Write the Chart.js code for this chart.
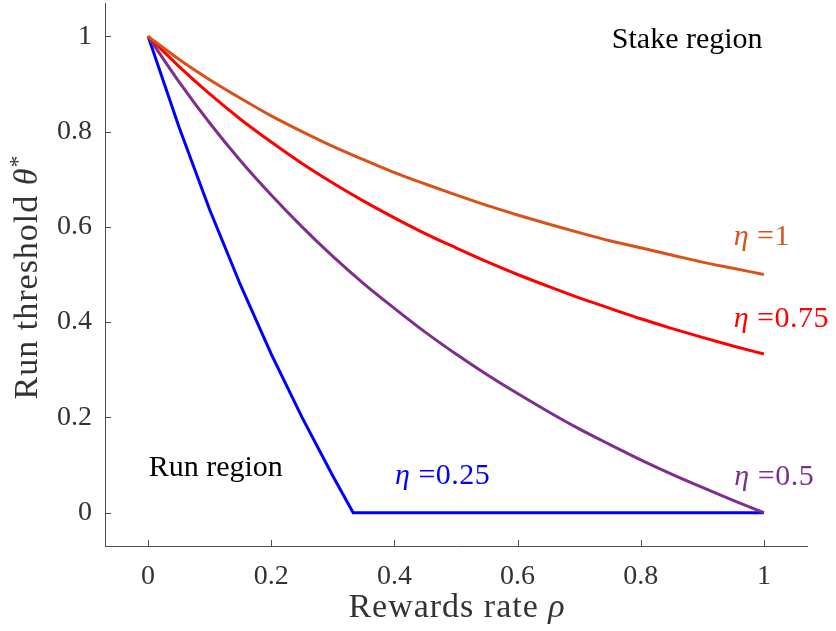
<!DOCTYPE html>
<html>
<head>
<meta charset="utf-8">
<script src="https://cdn.jsdelivr.net/npm/chart.js@4/dist/chart.umd.min.js"></script>
<style>
  html, body { margin: 0; padding: 0; background: #fff; }
</style>
</head>
<body>
<canvas id="thresholdChart" width="836" height="631"></canvas>
<script>
// Values
const rho = [0, 0.05, 0.1, 0.15, 0.2, 0.25, 0.3, 0.35, 0.4, 0.45, 0.5,
             0.55, 0.6, 0.65, 0.7, 0.75, 0.8, 0.85, 0.9, 0.95, 1];
const thetaEta1 = [1, 0.952, 0.909, 0.870, 0.833, 0.800, 0.769, 0.741, 0.714, 0.690, 0.667,
                   0.645, 0.625, 0.606, 0.588, 0.571, 0.556, 0.541, 0.526, 0.513, 0.500];
const thetaEta075 = [1, 0.937, 0.879, 0.826, 0.778, 0.733, 0.692, 0.654, 0.619, 0.586, 0.556,
                     0.527, 0.500, 0.475, 0.451, 0.429, 0.407, 0.387, 0.368, 0.350, 0.333];
const thetaEta05 = [1, 0.905, 0.818, 0.739, 0.667, 0.600, 0.538, 0.481, 0.429, 0.379, 0.333,
                    0.290, 0.250, 0.212, 0.176, 0.143, 0.111, 0.081, 0.053, 0.026, 0];
const rhoEta025 = [0, 0.05, 0.1, 0.15, 0.2, 0.25, 0.3, 0.333, 0.5, 0.75, 1];
const thetaEta025 = [1, 0.810, 0.636, 0.478, 0.333, 0.200, 0.077, 0, 0, 0, 0];
const tickValues = [0, 0.2, 0.4, 0.6, 0.8, 1];

const SERIF = "'Liberation Serif', 'Times New Roman', serif";
const AXIS_GRAY = '#4d4d4d';
const TEXT_GRAY = '#333333';

function toPoints(xs, ys) {
    return xs.map((x, i) => ({ x: x, y: ys[i] }));
}

function lineSet(label, xs, ys, color, smooth) {
    return {
        label: label,
        data: toPoints(xs, ys),
        borderColor: color,
        backgroundColor: color,
        borderWidth: 3,
        pointRadius: 0,
        showLine: true,
        fill: false,
        cubicInterpolationMode: smooth ? 'monotone' : 'default',
        tension: 0
    };
}

// Draw text made of runs: [text, italic, sizeScale, raise]
function drawRuns(ctx, runs, x, y, size, color, spacing) {
    ctx.fillStyle = color;
    ctx.textBaseline = 'alphabetic';
    ctx.textAlign = 'left';
    ctx.letterSpacing = (spacing || 0) + 'px';
    let cx = x;
    runs.forEach(r => {
        const s = size * (r[2] || 1);
        ctx.font = (r[1] ? 'italic ' : '') + s + 'px ' + SERIF;
        ctx.fillText(r[0], cx, y - (r[3] || 0));
        cx += ctx.measureText(r[0]).width;
    });
    ctx.letterSpacing = '0px';
    return cx - x;
}

function runsWidth(ctx, runs, size, spacing) {
    ctx.letterSpacing = (spacing || 0) + 'px';
    let w = 0;
    runs.forEach(r => {
        ctx.font = (r[1] ? 'italic ' : '') + size * (r[2] || 1) + 'px ' + SERIF;
        w += ctx.measureText(r[0]).width;
    });
    ctx.letterSpacing = '0px';
    return w;
}

const decorPlugin = {
    id: 'decor',
    afterDraw(chart) {
        const ctx = chart.ctx;
        const xs = chart.scales.x;
        const ys = chart.scales.y;
        ctx.save();

        // inward tick marks
        ctx.strokeStyle = AXIS_GRAY;
        ctx.lineWidth = 1;
        ctx.beginPath();
        tickValues.forEach(v => {
            const px = Math.round(xs.getPixelForValue(v)) + 0.5;
            ctx.moveTo(px, ys.bottom);
            ctx.lineTo(px, ys.bottom - 6);
            const py = Math.round(ys.getPixelForValue(v)) + 0.5;
            ctx.moveTo(xs.left, py);
            ctx.lineTo(xs.left + 6, py);
        });
        ctx.stroke();

        // x axis title
        const xRuns = [['Rewards rate ', false], ['\u03C1', true]];
        const xw = runsWidth(ctx, xRuns, 34, 1);
        drawRuns(ctx, xRuns, 457 - xw / 2, 617, 34, TEXT_GRAY, 1);

        // y axis title
        const yRuns = [['Run threshold ', false], ['\u03B8', true], ['*', false, 0.7, 12]];
        const yw = runsWidth(ctx, yRuns, 34, 1);
        ctx.save();
        ctx.translate(37, 277);
        ctx.rotate(-Math.PI / 2);
        drawRuns(ctx, yRuns, -yw / 2, 0, 34, TEXT_GRAY, 1);
        ctx.restore();

        // region notes
        ctx.font = '30px ' + SERIF;
        ctx.fillStyle = '#000';
        ctx.fillText('Stake region', xs.getPixelForValue(0.753), ys.getPixelForValue(0.975));
        ctx.fillText('Run region', xs.getPixelForValue(0.001), ys.getPixelForValue(0.077));

        // curve labels
        const notes = [
            ['1', '#D95319', 0.951, 0.561],
            ['0.75', '#FF0000', 0.951, 0.39],
            ['0.25', '#0000FF', 0.401, 0.06],
            ['0.5', '#7E2F8E', 0.952, 0.058]
        ];
        notes.forEach(n => {
            drawRuns(ctx, [['\u03B7', true], [' =' + n[0], false]],
                xs.getPixelForValue(n[2]), ys.getPixelForValue(n[3]), 30, n[1], 0.5);
        });

        ctx.restore();
    }
};

const tickFont = { family: SERIF, size: 28 };
const tickLabel = value => String(Number(value.toFixed(2)));

new Chart(document.getElementById('thresholdChart'), {
    type: 'scatter',
    data: {
        datasets: [
            lineSet('eta = 1', rho, thetaEta1, '#D95319', true),
            lineSet('eta = 0.75', rho, thetaEta075, '#FF0000', true),
            lineSet('eta = 0.5', rho, thetaEta05, '#7E2F8E', true),
            lineSet('eta = 0.25', rhoEta025, thetaEta025, '#0000FF', false)
        ]
    },
    options: {
        responsive: false,
        animation: false,
        devicePixelRatio: 1,
        layout: { padding: { top: 3, right: 29, left: 0, bottom: 0 } },
        plugins: {
            legend: { display: false },
            tooltip: { enabled: false }
        },
        scales: {
            x: {
                type: 'linear',
                min: -0.07,
                max: 1.07,
                afterBuildTicks: scale => { scale.ticks = tickValues.map(v => ({ value: v })); },
                afterFit: scale => {
                    scale.height = 85;
                    scale.paddingLeft = 0;
                    scale.paddingRight = 0;
                },
                grid: { display: false, drawTicks: false },
                border: { display: true, color: AXIS_GRAY, width: 1 },
                ticks: { font: tickFont, color: TEXT_GRAY, padding: 14, maxRotation: 0, callback: tickLabel }
            },
            y: {
                type: 'linear',
                min: -0.07,
                max: 1.07,
                afterBuildTicks: scale => { scale.ticks = tickValues.map(v => ({ value: v })); },
                afterFit: scale => {
                    scale.width = 105;
                    scale.paddingTop = 0;
                    scale.paddingBottom = 0;
                },
                grid: { display: false, drawTicks: false },
                border: { display: true, color: AXIS_GRAY, width: 1 },
                ticks: { font: tickFont, color: TEXT_GRAY, padding: 13, callback: tickLabel }
            }
        }
    },
    plugins: [decorPlugin]
});
</script>
</body>
</html>
